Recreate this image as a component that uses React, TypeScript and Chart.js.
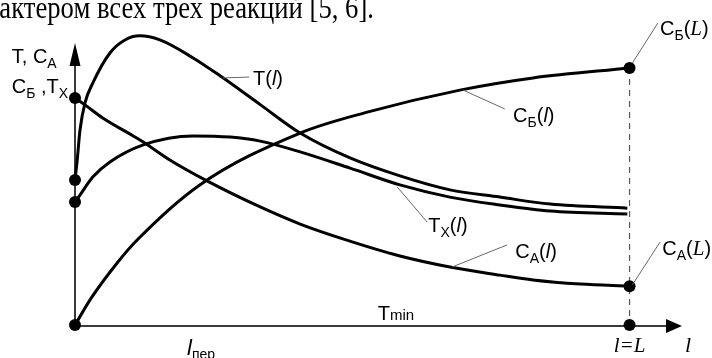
import { useEffect, useRef } from "react";
import { Chart, registerables } from "chart.js";
Chart.register(...registerables);

// ---- data (x in units of l, L = 10) ----
const L = 10;
const tX = [0, 0.04, 0.09, 0.18, 0.32, 0.63, 0.9, 1.17, 1.53, 2.13, 2.61, 3.34, 4.06, 4.96, 5.86, 6.76, 7.66, 8.57, 9.96];
const tY = [5.0, 5.69, 6.72, 7.66, 8.34, 9.38, 9.83, 9.97, 9.83, 9.21, 8.6, 7.6, 6.62, 5.76, 5.14, 4.66, 4.41, 4.17, 4.03];

const txX = [0, 0.09, 0.32, 0.63, 1.23, 2.13, 2.8, 3.34, 4.06, 4.96, 5.86, 6.76, 7.66, 8.57, 9.96];
const txY = [4.24, 4.48, 5.1, 5.62, 6.21, 6.52, 6.48, 6.34, 5.97, 5.41, 4.83, 4.41, 4.14, 3.93, 3.83];

const caX = [0, 0.18, 0.5, 1.05, 1.23, 1.71, 2.38, 3.34, 4.06, 4.83, 5.86, 6.76, 7.66, 8.26, 9.11, 10];
const caY = [7.83, 7.59, 7.14, 6.52, 6.31, 5.69, 4.97, 4.07, 3.48, 2.97, 2.38, 2.0, 1.72, 1.55, 1.41, 1.34];

const cbX = [0, 0.3, 0.76, 1.12, 2.25, 4.06, 5.27, 6.94, 8.26, 10];
const cbY = [0, 0.95, 2.14, 2.93, 4.83, 6.62, 7.34, 8.1, 8.52, 8.86];

const HEADING = "рактером всех трех реакций [5, 6].";

const SANS = "'Liberation Sans', Arial, sans-serif";
const SERIF = "'Liberation Serif', 'Times New Roman', serif";
const F_MAIN = `20px ${SANS}`;
const F_SUB = `14px ${SANS}`;
const F_IT = `italic 20px ${SANS}`;
const F_ITS = `italic 21px ${SERIF}`;

type Seg = { t: string; f: string; dy?: number };
type Lab = { at: [number, number]; segs: Seg[]; center?: boolean; ptr?: [number, number, number, number] };

const labelsLayout: Lab[] = [
  { at: [3.21, 8.28], segs: [{ t: "T(", f: F_MAIN }, { t: "l", f: F_IT }, { t: ")", f: F_MAIN }], ptr: [2.67, 8.52, 3.14, 8.55] },
  { at: [7.9, 7.0], segs: [{ t: "C", f: F_MAIN }, { t: "Б", f: F_SUB, dy: 5 }, { t: "(", f: F_MAIN }, { t: "l", f: F_IT }, { t: ")", f: F_MAIN }], ptr: [7.0, 8.1, 7.75, 7.45] },
  { at: [6.37, 3.21], segs: [{ t: "T", f: F_MAIN }, { t: "X", f: F_SUB, dy: 5 }, { t: "(", f: F_MAIN }, { t: "l", f: F_IT }, { t: ")", f: F_MAIN }], ptr: [5.81, 4.76, 6.35, 3.55] },
  { at: [7.94, 2.31], segs: [{ t: "C", f: F_MAIN }, { t: "A", f: F_SUB, dy: 5 }, { t: "(", f: F_MAIN }, { t: "l", f: F_IT }, { t: ")", f: F_MAIN }], ptr: [6.8, 2.0, 7.79, 2.76] },
  { at: [10.55, 10.0], segs: [{ t: "C", f: F_MAIN }, { t: "Б", f: F_SUB, dy: 5 }, { t: "(", f: F_MAIN }, { t: "L", f: F_ITS }, { t: ")", f: F_MAIN }], ptr: [10.05, 9.03, 10.51, 10.41] },
  { at: [10.59, 2.41], segs: [{ t: "C", f: F_MAIN }, { t: "A", f: F_SUB, dy: 5 }, { t: "(", f: F_MAIN }, { t: "L", f: F_ITS }, { t: ")", f: F_MAIN }], ptr: [10.05, 1.38, 10.55, 2.86] },
  { at: [5.46, 0.17], segs: [{ t: "T", f: F_MAIN }, { t: "min", f: `15px ${SANS}` }] },
  { at: [2.02, -1.03], segs: [{ t: "l", f: `italic 22px ${SANS}` }, { t: "пер", f: F_SUB, dy: 4 }] },
  { at: [L, -0.93], segs: [{ t: "l=L", f: F_ITS }], center: true },
  { at: [11.0, -0.93], segs: [{ t: "l", f: `italic 22px ${SERIF}` }] },
  { at: [-1.14, 9.03], segs: [{ t: "T, C", f: F_MAIN }, { t: "A", f: F_SUB, dy: 5 }] },
  { at: [-1.14, 8.0], segs: [{ t: "C", f: F_MAIN }, { t: "Б", f: F_SUB, dy: 5 }, { t: " ,T", f: F_MAIN }, { t: "X", f: F_SUB, dy: 5 }] },
];

function pts(xs: number[], ys: number[]) {
  return xs.map((x, i) => ({ x, y: ys[i] }));
}
function radii(n: number, first: boolean, last: boolean) {
  return Array.from({ length: n }, (_, i) => ((i === 0 && first) || (i === n - 1 && last) ? 6 : 0));
}

const overlay = {
  id: "overlay",
  beforeDatasetsDraw(chart: any) {
    const { ctx, scales } = chart;
    const xs = scales.x, ys = scales.y;
    const x0 = xs.getPixelForValue(0), y0 = ys.getPixelForValue(0);
    const yTip = chart.chartArea.top + 8;
    const xTip = chart.chartArea.right - 3;
    ctx.save();
    // heading text (cropped line of the book page)
    ctx.save();
    ctx.fillStyle = "#000";
    ctx.font = `31px ${SERIF}`;
    ctx.textBaseline = "alphabetic";
    ctx.translate(-14, 18);
    ctx.scale(0.86, 1);
    ctx.fillText(HEADING, 0, 0);
    ctx.restore();
    // axes
    ctx.strokeStyle = "#3a3a3a";
    ctx.lineWidth = 2;
    ctx.beginPath();
    ctx.moveTo(x0, y0 + 1);
    ctx.lineTo(x0, yTip + 14);
    ctx.moveTo(x0, y0 + 1);
    ctx.lineTo(xTip - 14, y0 + 1);
    ctx.stroke();
    ctx.fillStyle = "#000";
    ctx.beginPath();
    ctx.moveTo(x0, yTip);
    ctx.lineTo(x0 - 5.5, yTip + 23);
    ctx.lineTo(x0 + 5.5, yTip + 23);
    ctx.closePath();
    ctx.fill();
    ctx.beginPath();
    ctx.moveTo(xTip, y0 + 1);
    ctx.lineTo(xTip - 16, y0 + 1 - 7);
    ctx.lineTo(xTip - 16, y0 + 1 + 7);
    ctx.closePath();
    ctx.fill();
    // dashed line at l = L
    const xL = xs.getPixelForValue(L);
    ctx.strokeStyle = "#555";
    ctx.lineWidth = 1.2;
    ctx.setLineDash([6, 5]);
    ctx.beginPath();
    ctx.moveTo(xL, ys.getPixelForValue(cbY[cbY.length - 1]));
    ctx.lineTo(xL, y0);
    ctx.stroke();
    ctx.restore();
  },
  afterDatasetsDraw(chart: any) {
    const { ctx, scales } = chart;
    const xs = scales.x, ys = scales.y;
    ctx.save();
    ctx.textBaseline = "alphabetic";
    ctx.fillStyle = "#000";
    for (const lab of labelsLayout) {
      if (lab.ptr) {
        const [a, b, c, d] = lab.ptr;
        ctx.strokeStyle = "#666";
        ctx.lineWidth = 1;
        ctx.beginPath();
        ctx.moveTo(xs.getPixelForValue(a), ys.getPixelForValue(b));
        ctx.lineTo(xs.getPixelForValue(c), ys.getPixelForValue(d));
        ctx.stroke();
      }
      let w = 0;
      for (const s of lab.segs) {
        ctx.font = s.f;
        w += ctx.measureText(s.t).width;
      }
      let cx = xs.getPixelForValue(lab.at[0]) - (lab.center ? w / 2 : 0);
      const cy = ys.getPixelForValue(lab.at[1]);
      for (const s of lab.segs) {
        ctx.font = s.f;
        ctx.fillText(s.t, cx, cy + (s.dy || 0));
        cx += ctx.measureText(s.t).width;
      }
    }
    ctx.restore();
  },
};

export default function App() {
  const ref = useRef<HTMLCanvasElement | null>(null);
  useEffect(() => {
    document.body.style.margin = "0";
    const c = ref.current;
    if (!c) return;
    const common = {
      borderColor: "#000",
      borderWidth: 3,
      fill: false,
      cubicInterpolationMode: "monotone" as const,
      pointBackgroundColor: "#000",
      pointBorderWidth: 0,
      pointHoverRadius: 0,
      clip: false as any,
    };
    const chart = new Chart(c, {
      type: "line",
      data: {
        datasets: [
          { ...common, label: "T(l)", data: pts(tX, tY), pointRadius: radii(tX.length, true, false) },
          { ...common, label: "Tx(l)", data: pts(txX, txY), pointRadius: radii(txX.length, true, false) },
          { ...common, label: "CA(l)", data: pts(caX, caY), pointRadius: radii(caX.length, true, true) },
          { ...common, label: "CB(l)", data: pts(cbX, cbY), pointRadius: radii(cbX.length, true, true) },
          { ...common, label: "l=L", data: [{ x: L, y: 0 }], pointRadius: 6, showLine: false },
        ],
      },
      options: {
        animation: false,
        responsive: false,
        devicePixelRatio: 1,
        layout: { padding: { left: 75, right: 27, top: 35, bottom: 33 } },
        plugins: { legend: { display: false }, tooltip: { enabled: false } },
        events: [],
        scales: {
          x: { type: "linear", min: 0, max: 11, display: false },
          y: { type: "linear", min: 0, max: 10, display: false },
        },
      },
      plugins: [overlay],
    });
    return () => chart.destroy();
  }, []);
  return (
    <div style={{ width: 712, height: 358, overflow: "hidden", background: "#fff" }}>
      <canvas ref={ref} width={712} height={358} style={{ display: "block", width: 712, height: 358 }} />
    </div>
  );
}
